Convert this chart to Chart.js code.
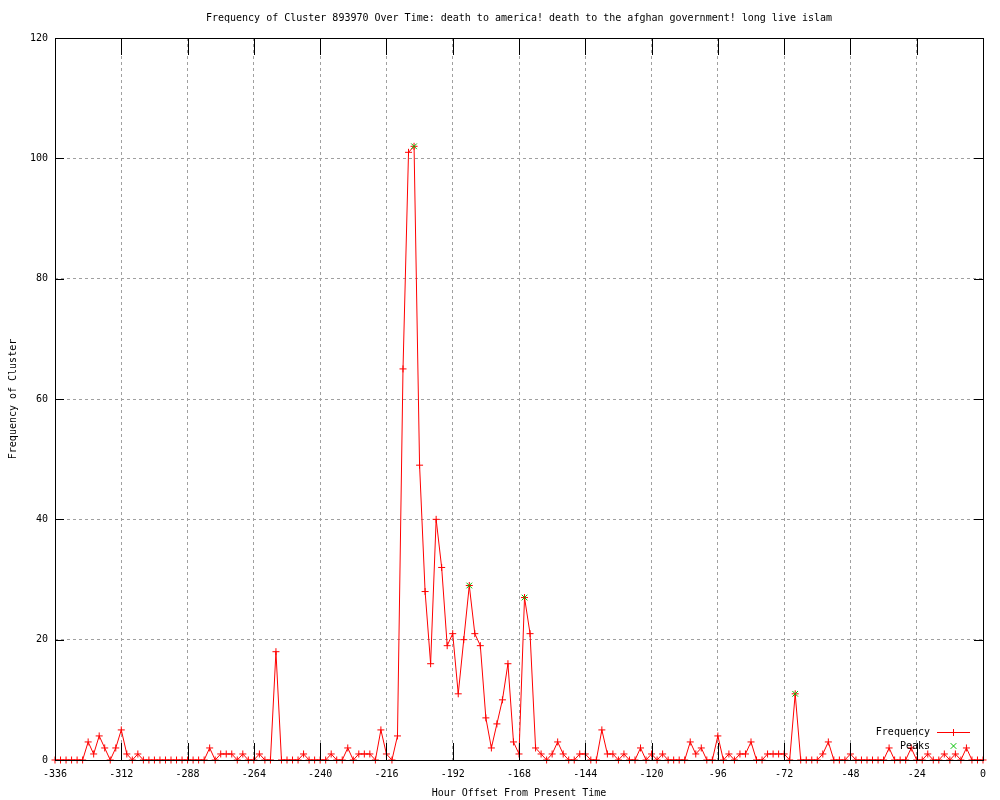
<!DOCTYPE html>
<html>
<head>
<meta charset="utf-8">
<script src="https://cdn.jsdelivr.net/npm/chart.js@4.4.1/dist/chart.umd.min.js"></script>
<style>
html,body{margin:0;padding:0;background:#ffffff;}
canvas{display:block;}
</style>
</head>
<body>
<canvas id="c" width="1000" height="800"></canvas>
<script>
// ---- data ----
const titleText = "Frequency of Cluster 893970 Over Time: death to america! death to the afghan government! long live islam";
const xAxisTitle = "Hour Offset From Present Time";
const yAxisTitle = "Frequency of Cluster";

const hours = [
  -336,-334,-332,-330,-328,-326,-324,-322,-320,-318,-316,-314,-312,-310,-308,-306,-304,-302,-300,-298,
  -296,-294,-292,-290,-288,-286,-284,-282,-280,-278,-276,-274,-272,-270,-268,-266,-264,-262,-260,-258,
  -256,-254,-252,-250,-248,-246,-244,-242,-240,-238,-236,-234,-232,-230,-228,-226,-224,-222,-220,-218,
  -216,-214,-212,-210,-208,-206,-204,-202,-200,-198,-196,-194,-192,-190,-188,-186,-184,-182,-180,-178,
  -176,-174,-172,-170,-168,-166,-164,-162,-160,-158,-156,-154,-152,-150,-148,-146,-144,-142,-140,-138,
  -136,-134,-132,-130,-128,-126,-124,-122,-120,-118,-116,-114,-112,-110,-108,-106,-104,-102,-100,-98,
  -96,-94,-92,-90,-88,-86,-84,-82,-80,-78,-76,-74,-72,-70,-68,-66,-64,-62,-60,-58,
  -56,-54,-52,-50,-48,-46,-44,-42,-40,-38,-36,-34,-32,-30,-28,-26,-24,-22,-20,-18,
  -16,-14,-12,-10,-8,-6,-4,-2,0
];
const frequency = [
  0,0,0,0,0,0,3,1,4,2,0,2,5,1,0,1,0,0,0,0,
  0,0,0,0,0,0,0,0,2,0,1,1,1,0,1,0,0,1,0,0,
  18,0,0,0,0,1,0,0,0,0,1,0,0,2,0,1,1,1,0,5,
  1,0,4,65,101,102,49,28,16,40,32,19,21,11,20,29,21,19,7,2,
  6,10,16,3,1,27,21,2,1,0,1,3,1,0,0,1,1,0,0,5,
  1,1,0,1,0,0,2,0,1,0,1,0,0,0,0,3,1,2,0,0,
  4,0,1,0,1,1,3,0,0,1,1,1,1,0,11,0,0,0,0,1,
  3,0,0,0,1,0,0,0,0,0,0,2,0,0,0,2,0,0,1,0,
  0,1,0,1,0,2,0,0,0
];
const peakHours = [-206, -186, -166, -68];
const peakValues = [102, 29, 27, 11];
const xTickValues = [-336,-312,-288,-264,-240,-216,-192,-168,-144,-120,-96,-72,-48,-24,0];
const yTickValues = [0,20,40,60,80,100,120];
const seriesNames = ["Frequency", "Peaks"];

// ---- styling ----
const FONT = "'DejaVu Sans Mono', 'Liberation Mono', monospace";
const RED = "#ff0000";
const GREEN = "#00c000";
const GRID = "#a0a0a0";
const TICK_LEN_X = 17;
const TICK_LEN_Y = 9;

const freqPoints = hours.map((h, i) => ({x: h, y: frequency[i]}));
const peakPoints = peakHours.map((h, i) => ({x: h, y: peakValues[i]}));

const framePlugin = {
  id: 'frame',
  afterDatasetsDraw(chart) {
    const {ctx, chartArea: {left, right, top, bottom}, scales: {x, y}} = chart;
    ctx.save();
    ctx.strokeStyle = '#000';
    ctx.lineWidth = 1;
    ctx.setLineDash([]);
    ctx.beginPath();
    xTickValues.forEach(v => {
      const px = Math.round(x.getPixelForValue(v)) + 0.5;
      ctx.moveTo(px, bottom); ctx.lineTo(px, bottom - TICK_LEN_X);
      ctx.moveTo(px, top); ctx.lineTo(px, top + TICK_LEN_X);
    });
    yTickValues.forEach(v => {
      const py = Math.round(y.getPixelForValue(v)) + 0.5;
      ctx.moveTo(left, py); ctx.lineTo(left + TICK_LEN_Y, py);
      ctx.moveTo(right, py); ctx.lineTo(right - TICK_LEN_Y, py);
    });
    ctx.stroke();
    ctx.strokeRect(Math.round(left) + 0.5, Math.round(top) + 0.5, Math.round(right - left), Math.round(bottom - top));
    ctx.restore();
  },
  afterDraw(chart) {
    const {ctx, chartArea: {right, bottom}} = chart;
    ctx.save();
    ctx.font = "10px " + FONT;
    ctx.fillStyle = '#000';
    ctx.textAlign = 'right';
    ctx.textBaseline = 'middle';
    const textX = right - 53;
    const y1 = bottom - 28, y2 = bottom - 14;
    ctx.fillText(seriesNames[0], textX, y1);
    ctx.fillText(seriesNames[1], textX, y2);
    ctx.strokeStyle = RED; ctx.lineWidth = 1;
    ctx.beginPath();
    ctx.moveTo(textX + 7, y1 + 0.5); ctx.lineTo(textX + 40, y1 + 0.5);
    ctx.stroke();
    Chart.helpers.drawPoint(ctx, {pointStyle: 'cross', radius: 3.5, borderWidth: 1, rotation: 0}, textX + 23.5, y1 + 0.5);
    ctx.strokeStyle = GREEN;
    Chart.helpers.drawPoint(ctx, {pointStyle: 'crossRot', radius: 4, borderWidth: 1, rotation: 0}, textX + 23.5, y2);
    ctx.restore();
  }
};

Chart.defaults.font.family = FONT;
Chart.defaults.font.size = 10;
Chart.defaults.color = '#000';

new Chart(document.getElementById('c'), {
  type: 'scatter',
  data: {
    datasets: [
      {
        label: seriesNames[0],
        data: freqPoints,
        showLine: true,
        borderColor: RED,
        borderWidth: 1,
        tension: 0,
        pointStyle: 'cross',
        pointRadius: 3.5,
        pointBorderColor: RED,
        pointBorderWidth: 1,
        pointBackgroundColor: RED,
        clip: false,
        order: 2
      },
      {
        label: seriesNames[1],
        data: peakPoints,
        showLine: false,
        pointStyle: 'crossRot',
        pointRadius: 4,
        pointBorderColor: GREEN,
        pointBorderWidth: 1,
        clip: false,
        order: 1
      }
    ]
  },
  options: {
    responsive: false,
    animation: false,
    layout: {padding: {left: 0, right: 17, top: 0, bottom: 0}},
    plugins: {
      legend: {display: false},
      tooltip: {enabled: false},
      title: {
        display: true,
        text: titleText,
        fullSize: false,
        color: '#000',
        font: {family: FONT, size: 10, weight: 'normal', lineHeight: 1.2},
        padding: {top: 12, bottom: 14}
      }
    },
    scales: {
      x: {
        type: 'linear',
        min: -336,
        max: 0,
        afterBuildTicks: s => { s.ticks = xTickValues.map(v => ({value: v})); },
        afterFit: s => { s.height = 40; },
        ticks: {padding: 8, maxRotation: 0, autoSkip: false, color: '#000', font: {family: FONT, size: 10}},
        grid: {color: GRID, lineWidth: 1, drawTicks: false},
        border: {display: false, dash: [3, 3]},
        title: {display: true, text: xAxisTitle, color: '#000', font: {family: FONT, size: 10}, padding: {top: 0, bottom: 1}}
      },
      y: {
        type: 'linear',
        min: 0,
        max: 120,
        afterBuildTicks: s => { s.ticks = yTickValues.map(v => ({value: v})); },
        afterFit: s => { s.width = 55; },
        ticks: {padding: 7, color: '#000', font: {family: FONT, size: 10}},
        grid: {color: GRID, lineWidth: 1, drawTicks: false},
        border: {display: false, dash: [3, 3]},
        title: {display: true, text: yAxisTitle, color: '#000', font: {family: FONT, size: 10}, padding: {top: 7, bottom: 0}}
      }
    }
  },
  plugins: [framePlugin]
});
</script>
</body>
</html>
